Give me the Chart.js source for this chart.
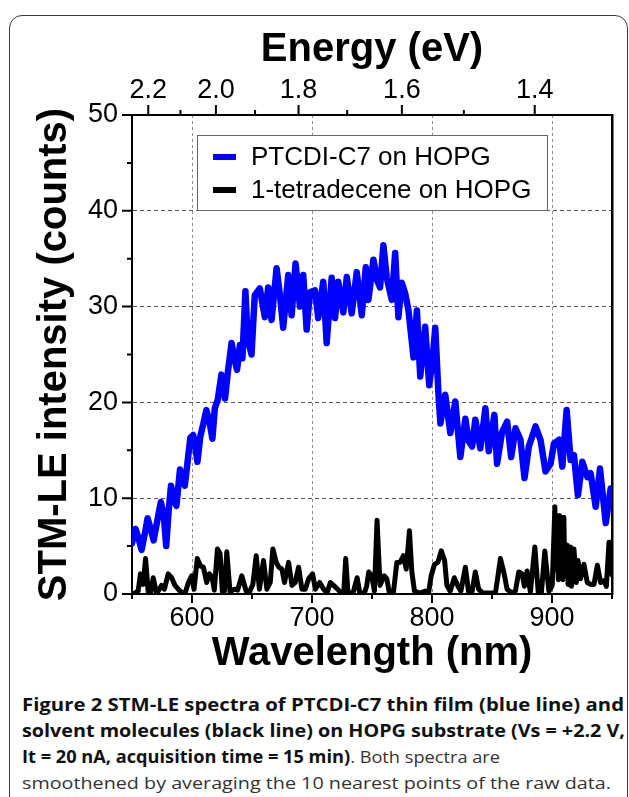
<!DOCTYPE html>
<html><head><meta charset="utf-8">
<script src="https://cdn.jsdelivr.net/npm/chart.js@4.4.1/dist/chart.umd.min.js"></script>
<style>
html,body{margin:0;padding:0;background:#fff;}
body{width:629px;height:797px;overflow:hidden;position:relative;}
#frame{position:absolute;left:9px;top:15px;width:619px;height:830px;border:1.6px solid #3a3a3a;border-radius:13px;box-sizing:border-box;}
#c{position:absolute;left:0;top:0;}
#cap{position:absolute;left:22px;top:692px;font-family:"Open Sans","Noto Sans",sans-serif;font-size:17px;line-height:26px;color:#333;}
#cap div{white-space:nowrap;height:26px;}
#cap span.ln{display:inline-block;transform-origin:0 50%;}
#cap b{font-weight:700;color:#111;}
</style></head><body>
<div id="frame"></div>
<canvas id="c" width="629" height="690"></canvas>
<div id="cap">
<div><span class="ln" data-w="602"><b>Figure 2 STM-LE spectra of PTCDI-C7 thin film (blue line) and</b></span></div>
<div><span class="ln" data-w="603"><b>solvent molecules (black line) on HOPG substrate (Vs = +2.2 V,</b></span></div>
<div><span class="ln" data-w="478"><b>It = 20 nA, acquisition time = 15 min)</b>. Both spectra are</span></div>
<div><span class="ln" data-w="589">smoothened by averaging the 10 nearest points of the raw data.</span></div>
</div>
<script>
// ---------- data ----------
const seriesLabels = ['PTCDI-C7 on HOPG', '1-tetradecene on HOPG'];

const blueWavelength = [550,553,555.5,558,561,563,566,568,571,574,576.5,578.5,580.5,582.5,585,587,590,592,594,596.5,598.6,601,603,604.5,607,609.5,612,614.5,617,619,621.5,624.5,627.5,630,633,635.5,637.5,640,642,644.5,646.5,649.6,652.3,656.5,660.7,663.5,666.3,670.5,673.2,676,680.2,683,686.3,690,692.7,695.5,698.3,702.5,705.2,709.4,712.2,716.4,719.2,721.9,726.1,729,733.1,737.3,741.5,744.8,747,751.2,754,756.7,759.5,762.3,766.5,769.3,772,774.8,777.6,780.4,784.6,787.4,790.2,794.3,797.7,800.5,802.7,805.5,807,811,815.3,819.4,823.6,827.8,830.5,833.4,836.1,840.3,844.5,847.3,852,854.2,858.4,862.6,866,869.6,873.7,877.1,880.7,886.3,890.4,894.6,898.8,901.6,905.8,908.6,912.2,915.5,918.3,921.6,925.3,929.4,932.2,936.4,940,944.8,948.9,950];
const blueCounts = [5.3,6.8,5.8,4.6,6.5,7.9,6.6,5.6,7.6,9.6,8.2,5.0,8.6,11.3,10.0,9.2,13.0,12.0,11.3,14.0,16.3,16.6,15.2,13.8,16.5,17.8,19.2,18.0,16.2,19.4,20.3,22.9,20.4,23.3,26.2,24.5,23.4,26.0,24.6,31.6,26.5,25.0,31.2,31.9,28.9,32.0,28.6,34.0,31.3,27.8,33.3,29.1,34.5,30.0,33.3,27.6,31.5,31.7,28.8,32.6,26.2,33.0,28.8,32.6,29.4,33.1,29.3,33.6,29.1,34.1,30.7,34.9,32.8,32.0,36.4,33.0,30.7,35.6,28.9,32.5,31.4,29.6,24.7,29.6,22.7,27.9,21.8,24.5,27.8,20.6,17.8,20.8,16.8,20.1,14.3,18.3,16.0,15.4,18.2,15.2,19.4,14.9,18.7,13.6,16.9,18.0,14.3,17.3,16.1,12.1,15.4,17.5,16.1,12.8,13.6,15.7,16.1,13.3,19.2,14.0,14.5,10.3,13.8,12.2,12.6,9.1,13.1,7.4,11.0,10.0];

const blackWavelength = [550,551,555.1,557.1,559.3,561.3,563.5,565.5,567.7,570.5,574.6,577,580.2,583,585.8,590,594.1,597,599.7,601.7,604.4,607.2,609.5,612.2,614.5,616.7,618.6,621.2,623.4,625.3,627,629,631.7,635.1,638,641.5,645.1,647.9,650.7,653.5,656.2,659.6,662.4,665.2,667.4,670.2,672.4,674.9,677.1,680.5,683.3,686,688.8,691.6,694.4,697.2,700.5,702.8,706.4,709.7,712.5,715.3,718,721.4,724.2,726.5,728.1,730,734.2,737.6,739.8,743.7,745.5,747.3,749.8,752,754.2,756.7,760.1,762.3,764.5,767.9,770.7,773.4,776.2,778.5,781.2,783.2,785.4,790.2,794.3,797.1,799.3,802.1,804.9,807.7,810.5,812.4,815.2,818.6,821.3,824.1,827.8,830.5,833.3,836.1,838.9,842.2,848.6,852.8,855,857,859.8,862.6,866.7,869.5,872.3,875.1,877,879.3,882,885.7,888.5,891.2,894,897.4,900.2,902.4,903.3,904.3,905.3,906.3,907.2,908,909,909.9,910.6,911.3,912.7,913.4,914.1,915.5,916.2,916.9,918.3,920.2,921.6,923.8,926.6,929.4,932.2,935,937.8,940.5,943.3,945.3,947.5,949,950];
const blackCounts = [0,0,0.3,2.1,1.0,3.7,0.2,0.2,1.7,0,0.9,0.5,2.1,1.7,0.9,0.3,0,1.2,1.9,0.5,3.7,2.9,2.8,1.2,2.1,1.8,0.4,4.7,4.2,0.2,0.3,4.4,0.2,0.5,0.4,1.9,0.3,0.2,1.0,4.0,0.5,3.5,0.5,1.2,4.7,3.3,2.8,2.6,1.2,3.3,0.9,1.2,2.8,0.5,0.5,1.6,2.1,0.5,1.2,0.5,0.1,1.2,0.9,0.5,0.1,0.2,3.7,0.1,0.1,1.7,0.1,0.1,0.8,2.3,1.9,0.3,7.7,0.9,1.9,1.6,0.1,0.2,3.3,3.3,4.0,2.6,6.6,2.3,0.3,0.1,0.3,0.1,1.9,3.1,3.3,4.5,3.5,0.9,0.3,1.7,0.9,0.3,2.8,0.2,0.2,2.3,0.5,0.1,0.1,0.1,1.9,3.7,2.3,0.5,0.1,0.3,2.3,2.1,0.8,2.4,0.2,4.9,0.2,0.2,4.5,0.3,0.9,9.1,2.5,6.0,1.5,8.2,2.0,5.5,1.5,8.0,2.0,4.0,5.1,1.0,2.5,4.9,0.8,2.0,4.7,1.2,3.5,1.6,3.1,1.2,1.0,1.0,3.0,1.2,1.4,0.8,5.4,5.4,2.0];

// axis ticks
const wavelengthMajor = [600,700,800,900];
const wavelengthMinor = [550,650,750,850,950];
const countMajor = [0,10,20,30,40,50];
const countMinor = [5,15,25,35,45];
const energyMajor = [2.2,2.0,1.8,1.6,1.4];
const energyMinor = [2.1,1.9,1.7,1.5];
const HC = 1239.84; // eV*nm

// ---------- fonts ----------
function hasFont(name){
  const c=document.createElement('canvas').getContext('2d');
  const s='Wavelength (nm) 0123456789';
  c.font='40px monospace'; const w0=c.measureText(s).width;
  c.font='40px "'+name+'", monospace'; const w1=c.measureText(s).width;
  return Math.abs(w1-w0)>0.5;
}
const NARROW = hasFont('Liberation Sans Narrow');
const FAM = NARROW ? '"Liberation Sans Narrow", "Liberation Sans", Arial, sans-serif' : '"Liberation Sans", Arial, sans-serif';
const TS = NARROW ? 32 : 27;      // tick font size
const TT = NARROW ? 48 : 40;      // title font size
const tHalf = TT*1.2/2, kHalf = TS*1.2/2;
const tickPad = Math.max(0, Math.round(24 - kHalf));

// ---------- plugins ----------
const tickMarks = {
  id:'tickMarks',
  afterDraw(chart){
    const {ctx, chartArea:a, scales} = chart;
    const x = scales.x, xt = scales.xTop, y = scales.y;
    ctx.save(); ctx.strokeStyle='#000'; ctx.lineWidth=2; ctx.beginPath();
    countMajor.forEach(v=>{const p=y.getPixelForValue(v); ctx.moveTo(a.left,p); ctx.lineTo(a.left-10,p);});
    countMinor.forEach(v=>{const p=y.getPixelForValue(v); ctx.moveTo(a.left,p); ctx.lineTo(a.left-5,p);});
    wavelengthMajor.forEach(v=>{const p=x.getPixelForValue(v); ctx.moveTo(p,a.bottom); ctx.lineTo(p,a.bottom+9);});
    wavelengthMinor.forEach(v=>{const p=x.getPixelForValue(v); ctx.moveTo(p,a.bottom); ctx.lineTo(p,a.bottom+5);});
    energyMajor.forEach(e=>{const p=xt.getPixelForValue(HC/e); ctx.moveTo(p,a.top); ctx.lineTo(p,a.top-10);});
    energyMinor.forEach(e=>{const p=xt.getPixelForValue(HC/e); ctx.moveTo(p,a.top); ctx.lineTo(p,a.top-5);});
    ctx.stroke(); ctx.restore();
  }
};
const boxLegend = {
  id:'boxLegend',
  afterDatasetsDraw(chart){
    const {ctx, chartArea:a} = chart;
    const L=a.left+65, T=a.top+20, W=350, H=75;
    ctx.save();
    ctx.fillStyle='#fff'; ctx.fillRect(L,T,W,H);
    ctx.strokeStyle='#666'; ctx.lineWidth=1; ctx.strokeRect(L+0.5,T+0.5,W,H);
    ctx.font='26px "Liberation Sans", Arial, sans-serif'; ctx.textBaseline='middle'; ctx.fillStyle='#000';
    chart.data.datasets.forEach((ds,i)=>{
      const yy=T+22+i*33;
      ctx.strokeStyle=ds.borderColor; ctx.lineWidth=6; ctx.lineCap='butt';
      ctx.beginPath(); ctx.moveTo(L+16,yy); ctx.lineTo(L+39,yy); ctx.stroke();
      ctx.fillText(ds.label, L+54, yy+1);
    });
    ctx.restore();
  }
};

const tickFont = {family:FAM, size:TS};
const titleFont = {family:FAM, size:TT, weight:'bold'};

new Chart(document.getElementById('c'), {
  type:'line',
  data:{
    datasets:[
      {label:seriesLabels[0], data:blueWavelength.map((x,i)=>({x, y:blueCounts[i]})), borderColor:'#0000ff', borderWidth:6.5},
      {label:seriesLabels[1], data:blackWavelength.map((x,i)=>({x, y:blackCounts[i]})), borderColor:'#000000', borderWidth:5}
    ]
  },
  options:{
    responsive:false, animation:false, devicePixelRatio:1,
    layout:{padding:{left:0,right:17,top:0,bottom:0}},
    plugins:{legend:{display:false}, tooltip:{enabled:false}},
    elements:{point:{radius:0}, line:{tension:0, borderJoinStyle:'round', borderCapStyle:'round'}},
    scales:{
      x:{type:'linear', axis:'x', position:'bottom', min:550, max:950,
        afterFit(s){s.height=96;},
        ticks:{stepSize:50, autoSkip:false, maxRotation:0, padding:tickPad, color:'#000', font:tickFont,
          callback:v=> wavelengthMajor.includes(v) ? String(v) : ''},
        grid:{drawTicks:false, lineWidth:1, color:c=> (c.tick && wavelengthMajor.includes(c.tick.value)) ? '#8a8a8a' : 'rgba(0,0,0,0)'},
        border:{display:true, color:'#000', width:2, dash:[3,3]},
        title:{display:true, text:'Wavelength (nm)', color:'#000', font:titleFont, padding:{top:0,bottom:Math.round(690-654-tHalf)}}
      },
      xTop:{type:'linear', axis:'x', position:'top', min:550, max:950,
        afterFit(s){s.height=115;},
        afterBuildTicks(s){ s.ticks = energyMajor.map(e=>({value:HC/e})); },
        ticks:{autoSkip:false, maxRotation:0, padding:tickPad, color:'#000', font:tickFont,
          callback:v=> (HC/v).toFixed(1)},
        grid:{display:false, drawTicks:false},
        border:{display:true, color:'#000', width:2},
        title:{display:true, text:'Energy (eV)', color:'#000', font:titleFont, padding:{top:Math.round(50-tHalf),bottom:0}}
      },
      y:{type:'linear', axis:'y', position:'left', min:0, max:50,
        afterFit(s){s.width=132;},
        ticks:{stepSize:10, padding:14, color:'#000', font:tickFont},
        grid:{drawTicks:false, lineWidth:1, color:c=> (c.tick && c.tick.value>0 && c.tick.value<50) ? '#555' : 'rgba(0,0,0,0)'},
        border:{display:true, color:'#000', width:2, dash:[4,3]},
        title:{display:true, text:'STM-LE intensity (counts)', color:'#000', font:titleFont, padding:{top:Math.round(55-tHalf),bottom:0}}
      },
      yRight:{type:'linear', axis:'y', position:'right', min:0, max:50,
        afterFit(s){s.width=0;},
        ticks:{display:false}, grid:{display:false, drawTicks:false},
        border:{display:true, color:'#000', width:2.5}
      }
    }
  },
  plugins:[tickMarks, boxLegend]
});

// caption line widths
document.querySelectorAll('#cap span.ln').forEach(s=>{
  const w=s.getBoundingClientRect().width, t=+s.dataset.w;
  if(w>0) s.style.transform='scaleX('+(t/w)+')';
});
</script>
</body></html>
